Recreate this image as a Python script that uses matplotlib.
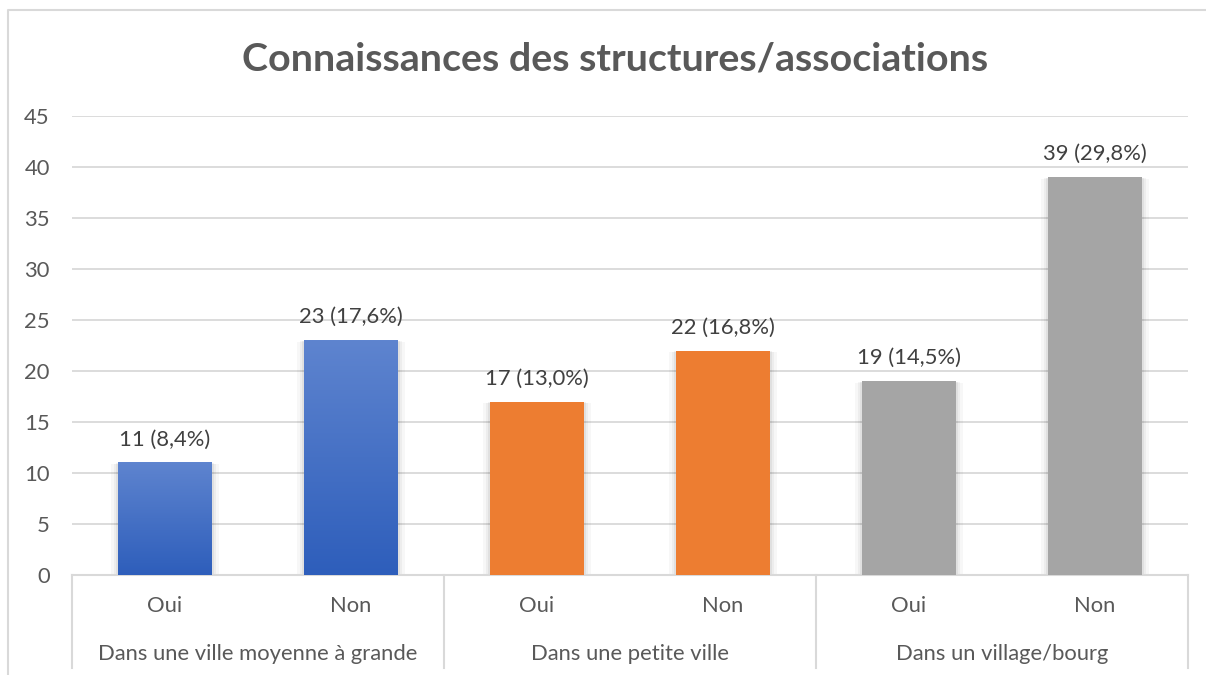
import matplotlib.pyplot as plt
import matplotlib.transforms as mtransforms
import matplotlib.patches as mpatches
import matplotlib.colors as mcolors
import numpy as np

plt.rcParams['font.family'] = ['Lato', 'DejaVu Sans']

groups = ['Dans une ville moyenne à grande', 'Dans une petite ville', 'Dans un village/bourg']
answers = ['Oui', 'Non']
counts = [11, 23, 17, 22, 19, 39]
labels = ['11 (8,4%)', '23 (17,6%)', '17 (13,0%)', '22 (16,8%)', '19 (14,5%)', '39 (29,8%)']
bar_colors = ['#4472C4', '#4472C4', '#ED7D31', '#ED7D31', '#A5A5A5', '#A5A5A5']

fig = plt.figure(figsize=(12.06, 6.75), dpi=100)
ax = fig.add_axes([72 / 1206, 100 / 675, 1116 / 1206, 459 / 675])

# outer chart border (left + top)
fig.add_artist(plt.Line2D([8 / 1206, 8 / 1206, 1.0], [0, 1 - 10 / 675, 1 - 10 / 675],
                          transform=fig.transFigure, color='#D9D9D9', lw=1.5))

x = np.arange(len(counts))
bars = ax.bar(x, counts, width=0.505, color=bar_colors, zorder=3)

# soft shadow + gradient on the blue bars
for b, c in zip(bars, bar_colors):
    for k, a in enumerate([0.05, 0.04, 0.03]):
        sh = mpatches.Rectangle((b.get_x() - 0.012 * (k + 1), -0.25 * (k + 1)),
                                b.get_width() + 0.024 * (k + 1), b.get_height() + 0.2 * (k + 1),
                                color='black', alpha=a, lw=0, zorder=2)
        ax.add_patch(sh)
    if c == '#4472C4':
        top = np.array(mcolors.to_rgb('#5E84CF'))
        bot = np.array(mcolors.to_rgb('#2E5EBB'))
        t = np.linspace(0, 1, 100)[:, None]
        grad = (top * (1 - t) + bot * t)[:, None, :]
        ax.imshow(grad, extent=(b.get_x(), b.get_x() + b.get_width(), 0, b.get_height()),
                  aspect='auto', origin='upper', zorder=3.5)

for b, lab in zip(bars, labels):
    ax.annotate(lab, (b.get_x() + b.get_width() / 2, b.get_height()), xytext=(0, 9.5),
                textcoords='offset points', ha='center', va='bottom', fontsize=15.8, color='#404040')

ax.set_xlim(-0.5, len(counts) - 0.5)
ax.set_ylim(0, 45)
ax.set_yticks(range(0, 46, 5))
ax.yaxis.grid(True, color='#D9D9D9', lw=1.3, zorder=0)
ax.set_axisbelow(True)
ax.tick_params(axis='y', length=0, pad=16, labelsize=15.8, labelcolor='#595959')
ax.set_xticks([])
for s in ['top', 'right', 'left']:
    ax.spines[s].set_visible(False)
ax.spines['bottom'].set_color('#D9D9D9')
ax.spines['bottom'].set_linewidth(1.5)

trans = mtransforms.blended_transform_factory(ax.transData, ax.transAxes)
for i in x:
    ax.text(i, -31 / 459, answers[i % 2], transform=trans, ha='center', va='center',
            fontsize=15.8, color='#595959')
for g, name in enumerate(groups):
    ax.text(2 * g + 0.5, -79 / 459, name, transform=trans, ha='center', va='center',
            fontsize=15.8, color='#595959')
for g in range(len(groups) + 1):
    ax.plot([2 * g - 0.5, 2 * g - 0.5], [0, -93 / 459], transform=trans, color='#D9D9D9',
            lw=1.5, clip_on=False)

fig.text(615 / 1206, 1 - 59 / 675, 'Connaissances des structures/associations', ha='center', va='center',
         fontsize=28.4, fontweight='bold', color='#595959')

fig.savefig('out.png', dpi=100)
